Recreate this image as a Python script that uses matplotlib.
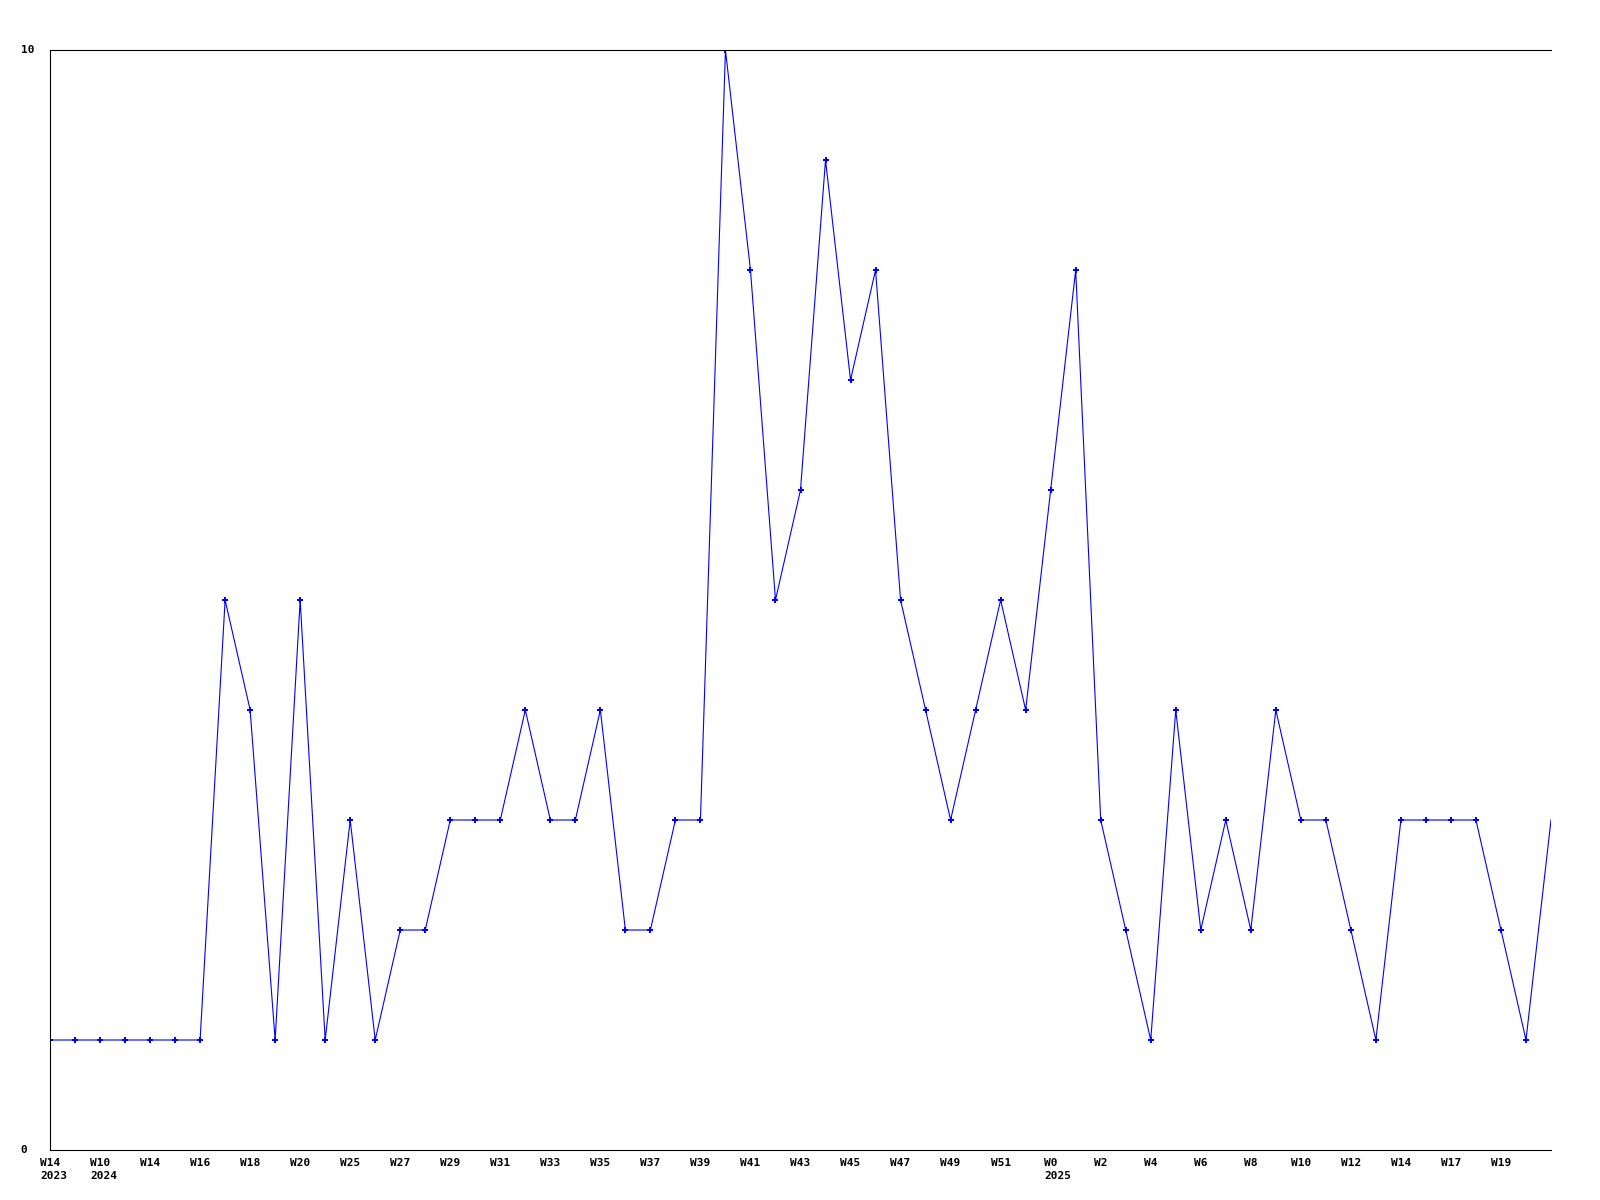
import matplotlib
matplotlib.use("Agg")
import matplotlib.pyplot as plt

# weekly counts
counts = [1, 1, 1, 1, 1, 1, 1, 5, 4, 1,
          5, 1, 3, 1, 2, 2, 3, 3, 3, 4,
          3, 3, 4, 2, 2, 3, 3, 10, 8, 5,
          6, 9, 7, 8, 5, 4, 3, 4, 5, 4,
          6, 8, 3, 2, 1, 4, 2, 3, 2, 4,
          3, 3, 2, 1, 3, 3, 3, 3, 2, 1,
          3]

# every second week gets a label
week_labels = ["W14", "W10", "W14", "W16", "W18", "W20", "W25", "W27",
               "W29", "W31", "W33", "W35", "W37", "W39", "W41", "W43", "W45",
               "W47", "W49", "W51", "W0", "W2", "W4", "W6", "W8", "W10",
               "W12", "W14", "W17", "W19"]
# year marks under the first label of each year (label index, year)
year_marks = [(0, "2023"), (1, "2024"), (20, "2025")]
y_ticks = [0, 10]

font = {"family": "DejaVu Sans Mono", "weight": "bold", "size": 8}
char_w = 0.602 * 8  # monospace advance in points

fig = plt.figure(figsize=(16, 12), dpi=100)
ax = fig.add_axes([50 / 1600, 50 / 1200, 1501 / 1600, 1100 / 1200])

x = list(range(len(counts)))
ax.plot(x, counts, color="#0000ff", lw=0.8, marker="P", ms=4.5, mew=0,
        markevery=list(range(len(counts) - 1)))

ticks = x[::2][:len(week_labels)]
ax.set_xlim(0, len(counts) - 1)
ax.set_ylim(0, 10)
ax.set_xticks(ticks)
ax.set_xticklabels(week_labels, fontdict=font, va="top")
ax.set_yticks(y_ticks)
ax.set_yticklabels([str(v) for v in y_ticks], fontdict=font, ha="left", va="center")
ax.tick_params(axis="y", length=0, pad=21)
ax.tick_params(axis="x", length=0, pad=6)

# the year sits on a second line, starting where the week label starts
for i, year in year_marks:
    half = len(week_labels[i]) * char_w / 2
    ax.annotate(year, xy=(ticks[i], 0), xycoords=("data", "axes fraction"),
                xytext=(-half, -19), textcoords="offset points",
                ha="left", va="center", **font)

ax.spines["right"].set_visible(False)
for side in ["top", "left", "bottom"]:
    ax.spines[side].set_linewidth(0.8)

fig.savefig("out.png", dpi=100)
